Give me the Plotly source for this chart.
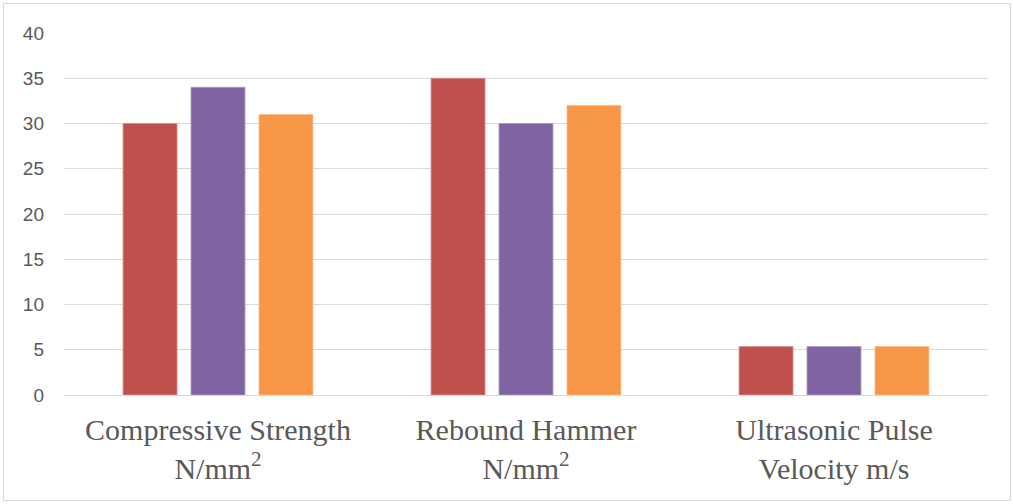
import plotly.graph_objects as go

# Test categories (two-line labels) and values for the three series
categories = [
    "Compressive Strength<br>N/mm<sup>2</sup>",
    "Rebound Hammer<br>N/mm<sup>2</sup>",
    "Ultrasonic Pulse<br>Velocity m/s",
]
series_a = [30, 35, 5.35]
series_b = [34, 30, 5.35]
series_c = [31, 32, 5.35]

series_names = ["Series 1", "Series 2", "Series 3"]
series_colors = ["#C0504D", "#8064A2", "#F79646"]
edge_colors = ["#D8908E", "#AA98C4", "#FBC08F"]

y_ticks = [0, 5, 10, 15, 20, 25, 30, 35, 40]

fig = go.Figure()
for name, vals, col, edge in zip(series_names, [series_a, series_b, series_c],
                                 series_colors, edge_colors):
    fig.add_trace(go.Bar(
        x=categories, y=vals, name=name,
        marker=dict(color=col, line=dict(color=edge, width=0.8)),
    ))

fig.update_layout(
    width=1013, height=504,
    margin=dict(l=64, r=25, t=33, b=109),
    paper_bgcolor="white", plot_bgcolor="white",
    barmode="group", bargap=0.338, bargroupgap=0.206,
    showlegend=False,
    # thin frame around the whole chart
    shapes=[dict(
        type="rect", xref="paper", yref="paper",
        x0=(3.5 - 64) / 924, x1=(1010.5 - 64) / 924,
        y0=(395 - 500.5) / 362, y1=(395 - 3.5) / 362,
        line=dict(color="#D9D9D9", width=1), fillcolor="rgba(0,0,0,0)",
        layer="below",
    )],
)

fig.update_yaxes(
    range=[0, 40], tickvals=y_ticks,
    showgrid=True, gridcolor="#D9D9D9", gridwidth=1,
    zeroline=False, showline=False, ticks="",
    tickfont=dict(family="Liberation Sans", size=19, color="#595959"),
    ticklabelstandoff=19,
)
fig.update_xaxes(
    showline=True, linecolor="#D9D9D9", linewidth=1, ticks="",
    tickfont=dict(family="Liberation Serif", size=30, color="#595959"),
    ticklabelstandoff=8,
)

fig.write_html("out.html")
